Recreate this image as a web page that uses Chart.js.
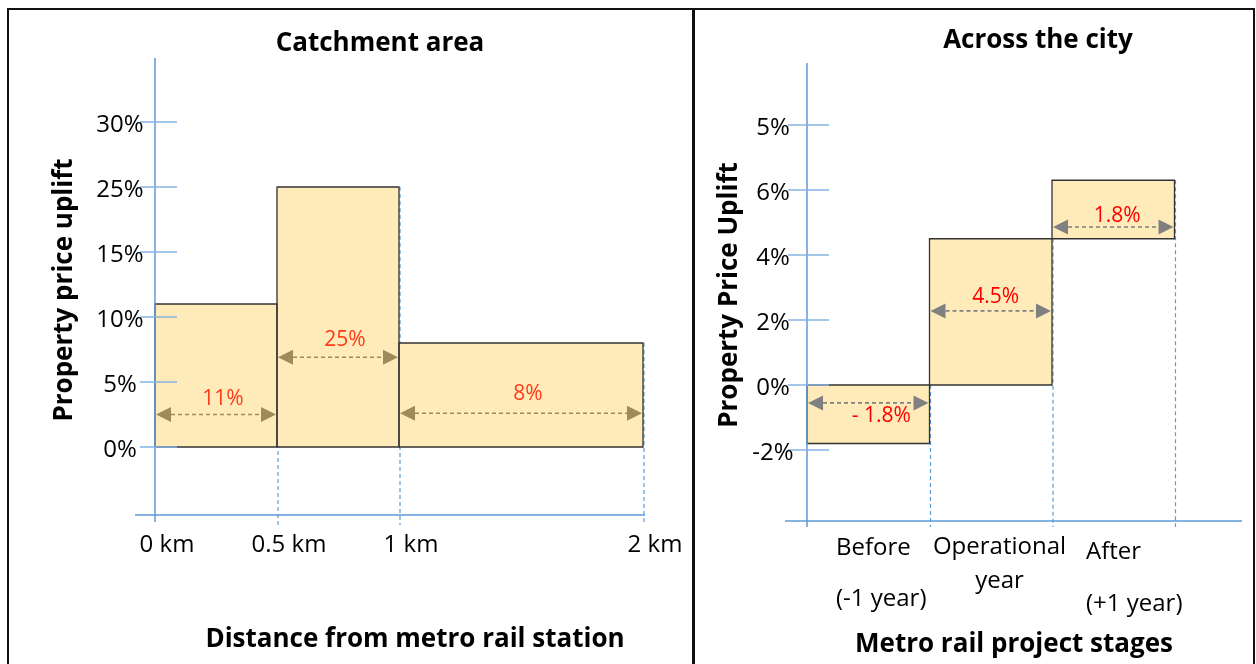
<!DOCTYPE html>
<html>
<head>
<meta charset="utf-8">
<script src="https://cdn.jsdelivr.net/npm/chart.js@4.4.1/dist/chart.umd.min.js"></script>
<style>
  html, body { margin: 0; padding: 0; background: #fff; }
  body { width: 1256px; height: 664px; position: relative; overflow: hidden; }
  .frame { position: absolute; border: 2px solid #111; box-sizing: border-box; }
  .pane { position: absolute; top: 0; height: 664px; }
  canvas { display: block; }
</style>
</head>
<body>
<div class="frame" style="left:7px;top:8px;width:688px;height:720px;"></div>
<div class="frame" style="left:692px;top:8px;width:563px;height:720px;"></div>
<div class="pane" style="left:0;width:693px;"><canvas id="catchment" width="693" height="664"></canvas></div>
<div class="pane" style="left:693px;width:563px;"><canvas id="city" width="563" height="664"></canvas></div>

<script>
// ---- Catchment area: price uplift by distance band from the station ----
const distanceEdgesKm = [0, 0.5, 1, 2];
const distanceTickLabels = ['0 km', '0.5 km', '1 km', '2 km'];
const catchmentUplift = [11, 25, 8];
const catchmentUpliftLabels = ['11%', '25%', '8%'];
const catchmentAxisTicks = [0, 5, 10, 15, 25, 30];   // broken axis: 20% is skipped

// ---- Across the city: price uplift by project stage ----
const stageEdges = [0, 1, 2, 3];
const stageTickLabels = [['Before', '(-1 year)'], ['Operational', 'year'], ['After', '(+1 year)']];
const stageUpliftStart = [0, 0, 4.5];
const stageUpliftChange = [-1.8, 4.5, 1.8];
const stageUpliftLabels = ['- 1.8%', '4.5%', '1.8%'];
const cityAxisTickLabels = ['-2%', '0%', '2%', '4%', '6%', '5%'];

// ---- styling ----
const FONT = '"Open Sans", Lato, sans-serif';
const AXIS_BLUE = '#5B9BD5';
const TICK_BLUE = '#86B3E2';
const BOX_FILL = '#FFEBB9';
const BOX_EDGE = '#333333';

// Position on the broken catchment axis (one unit per labelled tick)
function catchmentPos(v) {
  const t = catchmentAxisTicks;
  for (let i = 1; i < t.length; i++) {
    if (v <= t[i]) return (i - 1) + (v - t[i - 1]) / (t[i] - t[i - 1]);
  }
  const n = t.length - 1;
  return n + (v - t[n]) / (t[n] - t[n - 1]);
}

// A rectangle between x0..x1 and y0..y1: one filled dataset plus one outline dataset
function boxDatasets(x0, x1, y0, y1) {
  return [
    {
      data: [{x: x0, y: y0}, {x: x0, y: y1}, {x: x1, y: y1}, {x: x1, y: y0}],
      borderWidth: 0,
      borderColor: 'rgba(0,0,0,0)',
      backgroundColor: BOX_FILL,
      fill: {value: y0},
      pointRadius: 0,
      tension: 0,
      order: 2
    },
    {
      data: [{x: x0, y: y0}, {x: x0, y: y1}, {x: x1, y: y1}, {x: x1, y: y0}, {x: x0, y: y0}],
      borderColor: BOX_EDGE,
      borderWidth: 1.3,
      fill: false,
      pointRadius: 0,
      tension: 0,
      order: 1
    }
  ];
}

function drawArrow(ctx, xa, xb, y, color) {
  const head = 15, half = 7.5;
  ctx.save();
  ctx.strokeStyle = color;
  ctx.fillStyle = color;
  ctx.lineWidth = 1.6;
  ctx.setLineDash([4, 3]);
  ctx.beginPath();
  ctx.moveTo(xa + head, y);
  ctx.lineTo(xb - head, y);
  ctx.stroke();
  ctx.setLineDash([]);
  ctx.beginPath();
  ctx.moveTo(xa, y); ctx.lineTo(xa + head, y - half); ctx.lineTo(xa + head, y + half);
  ctx.closePath(); ctx.fill();
  ctx.beginPath();
  ctx.moveTo(xb, y); ctx.lineTo(xb - head, y - half); ctx.lineTo(xb - head, y + half);
  ctx.closePath(); ctx.fill();
  ctx.restore();
}

function text(ctx, str, x, y, font, color, align, baseline) {
  ctx.font = font;
  ctx.fillStyle = color || '#000';
  ctx.textAlign = align || 'center';
  ctx.textBaseline = baseline || 'alphabetic';
  ctx.fillText(str, x, y);
}

function verticalText(ctx, str, cx, cy, font) {
  ctx.save();
  ctx.translate(cx, cy);
  ctx.rotate(-Math.PI / 2);
  text(ctx, str, 0, 0, font, '#000', 'center', 'middle');
  ctx.restore();
}

function line(ctx, x0, y0, x1, y1, color, width, dash) {
  ctx.save();
  ctx.strokeStyle = color;
  ctx.lineWidth = width;
  ctx.setLineDash(dash || []);
  ctx.beginPath();
  ctx.moveTo(x0, y0);
  ctx.lineTo(x1, y1);
  ctx.stroke();
  ctx.restore();
}

function baseOptions(px, xRange, yRange) {
  return {
    responsive: false,
    animation: false,
    events: [],
    layout: {padding: {left: px.left, right: px.width - px.right, top: px.top, bottom: px.height - px.bottom}},
    plugins: {legend: {display: false}, tooltip: {enabled: false}, title: {display: false}},
    scales: {
      x: {type: 'linear', display: false, min: xRange[0], max: xRange[1]},
      y: {type: 'linear', display: false, min: yRange[0], max: yRange[1]}
    }
  };
}

// ================= Catchment area =================
const cPx = {width: 693, height: 664, left: 135, right: 645, top: 50, bottom: 515,
             zeroX: 155, perKm: 244, zeroY: 447, perStep: 65};
const cLayout = {
  arrowAt: [2.5, 6.9, 2.6],      // % level of each band's arrow
  labelDy: [-15, -17, -19],
  labelDx: 7,
  arrowColor: '#9E8A5B',
  labelColor: '#FF3B1A'
};

const catchmentDecor = {
  id: 'catchmentDecor',
  beforeDatasetsDraw(chart) {
    const {ctx, scales: {x, y}, chartArea} = chart;
    for (let i = 1; i < distanceEdgesKm.length; i++) {
      const px = x.getPixelForValue(distanceEdgesKm[i]);
      const top = y.getPixelForValue(catchmentPos(catchmentUplift[i - 1]));
      line(ctx, px + 1, top, px + 1, chartArea.bottom + 10, AXIS_BLUE, 1.2, [4, 3]);
    }
  },
  afterDatasetsDraw(chart) {
    const {ctx, scales: {x, y}, chartArea} = chart;
    const x0 = x.getPixelForValue(0);
    // axes
    line(ctx, chartArea.left, chartArea.bottom, chartArea.right, chartArea.bottom, AXIS_BLUE, 1.5);
    line(ctx, x0, 58, x0, chartArea.bottom + 7, AXIS_BLUE, 1.5);
    // y ticks and labels
    catchmentAxisTicks.forEach((v) => {
      const py = y.getPixelForValue(catchmentPos(v));
      line(ctx, x0 - 15, py, x0 + 22, py, TICK_BLUE, 1.5);
      text(ctx, v + '%', x0 - 35, py + 3, '24px ' + FONT, '#000', 'center', 'middle');
    });
    // x tick labels
    distanceEdgesKm.forEach((km, i) => {
      text(ctx, distanceTickLabels[i], x.getPixelForValue(km) + 12, 552, '24px ' + FONT, '#000', 'center');
    });
    // arrows and value labels
    catchmentUplift.forEach((v, i) => {
      const xa = x.getPixelForValue(distanceEdgesKm[i]) + 1;
      const xb = x.getPixelForValue(distanceEdgesKm[i + 1]) - 1;
      const ya = y.getPixelForValue(catchmentPos(cLayout.arrowAt[i]));
      drawArrow(ctx, xa, xb, ya, cLayout.arrowColor);
      text(ctx, catchmentUpliftLabels[i], (xa + xb) / 2 + cLayout.labelDx, ya + cLayout.labelDy[i],
           '21px ' + FONT, cLayout.labelColor, 'center', 'middle');
    });
    // titles
    text(ctx, 'Catchment area', 380, 51, 'bold 26px ' + FONT, '#000', 'center');
    verticalText(ctx, 'Property price uplift', 65, 290, 'bold 26px ' + FONT);
    text(ctx, 'Distance from metro rail station', 415, 647, 'bold 26px ' + FONT, '#000', 'center');
  }
};

new Chart(document.getElementById('catchment'), {
  type: 'line',
  data: {
    datasets: catchmentUplift.flatMap((v, i) =>
      boxDatasets(distanceEdgesKm[i], distanceEdgesKm[i + 1], 0, catchmentPos(v)))
  },
  options: baseOptions(cPx,
    [(cPx.left - cPx.zeroX) / cPx.perKm, (cPx.right - cPx.zeroX) / cPx.perKm],
    [-(cPx.bottom - cPx.zeroY) / cPx.perStep, (cPx.zeroY - cPx.top) / cPx.perStep]),
  plugins: [catchmentDecor]
});

// ================= Across the city =================
const kPx = {width: 563, height: 664, left: 92, right: 549, top: 50, bottom: 521,
             zeroX: 114, perStage: 122.5, zeroY: 385, perPct: 32.5};
const kLayout = {
  arrowAt: [-0.55, 2.28, 4.86],
  labelDy: [13, -14, -11],
  labelDx: [13, 5, 4],
  arrowColor: '#808080',
  labelColor: '#FF0000',
  stageText: [
    {dx: 29, align: 'left', baselines: [555, 606]},
    {dx: 70, align: 'center', baselines: [554, 588]},
    {dx: 34, align: 'left', baselines: [559, 611]}
  ]
};

const cityDecor = {
  id: 'cityDecor',
  beforeDatasetsDraw(chart) {
    const {ctx, scales: {x, y}, chartArea} = chart;
    for (let i = 1; i < stageEdges.length; i++) {
      const px = x.getPixelForValue(stageEdges[i]);
      const s = stageUpliftStart[i - 1], e = s + stageUpliftChange[i - 1];
      const top = y.getPixelForValue(Math.max(s, e));
      line(ctx, px + 1, top, px + 1, chartArea.bottom + 6, AXIS_BLUE, 1.2, [4, 3]);
    }
  },
  afterDatasetsDraw(chart) {
    const {ctx, scales: {x, y}, chartArea} = chart;
    const x0 = x.getPixelForValue(0);
    line(ctx, chartArea.left, chartArea.bottom, chartArea.right, chartArea.bottom, AXIS_BLUE, 1.5);
    line(ctx, x0, 63, x0, chartArea.bottom + 6, AXIS_BLUE, 1.5);
    cityAxisTickLabels.forEach((lab, i) => {
      const py = y.getPixelForValue(-2 + 2 * i);
      line(ctx, x0 - 19, py, x0 + 22, py, TICK_BLUE, 1.5);
      text(ctx, lab, x0 - 34, py + 3, '24px ' + FONT, '#000', 'center', 'middle');
    });
    stageTickLabels.forEach((lines, i) => {
      const L = kLayout.stageText[i];
      const px = x.getPixelForValue(stageEdges[i]) + L.dx;
      lines.forEach((s, j) => text(ctx, s, px, L.baselines[j], '24px ' + FONT, '#000', L.align));
    });
    stageUpliftChange.forEach((d, i) => {
      const xa = x.getPixelForValue(stageEdges[i]) + 1;
      const xb = x.getPixelForValue(stageEdges[i + 1]) - 1;
      const ya = y.getPixelForValue(kLayout.arrowAt[i]);
      drawArrow(ctx, xa, xb, ya, kLayout.arrowColor);
      text(ctx, stageUpliftLabels[i], (xa + xb) / 2 + kLayout.labelDx[i], ya + kLayout.labelDy[i],
           '21px ' + FONT, kLayout.labelColor, 'center', 'middle');
    });
    text(ctx, 'Across the city', 345, 48, 'bold 26px ' + FONT, '#000', 'center');
    verticalText(ctx, 'Property Price Uplift', 37, 295, 'bold 26px ' + FONT);
    text(ctx, 'Metro rail project stages', 321, 652, 'bold 26px ' + FONT, '#000', 'center');
  }
};

new Chart(document.getElementById('city'), {
  type: 'line',
  data: {
    datasets: stageUpliftChange.flatMap((d, i) =>
      boxDatasets(stageEdges[i], stageEdges[i + 1], stageUpliftStart[i], stageUpliftStart[i] + d))
  },
  options: baseOptions(kPx,
    [(kPx.left - kPx.zeroX) / kPx.perStage, (kPx.right - kPx.zeroX) / kPx.perStage],
    [-(kPx.bottom - kPx.zeroY) / kPx.perPct, (kPx.zeroY - kPx.top) / kPx.perPct]),
  plugins: [cityDecor]
});
</script>
</body>
</html>
